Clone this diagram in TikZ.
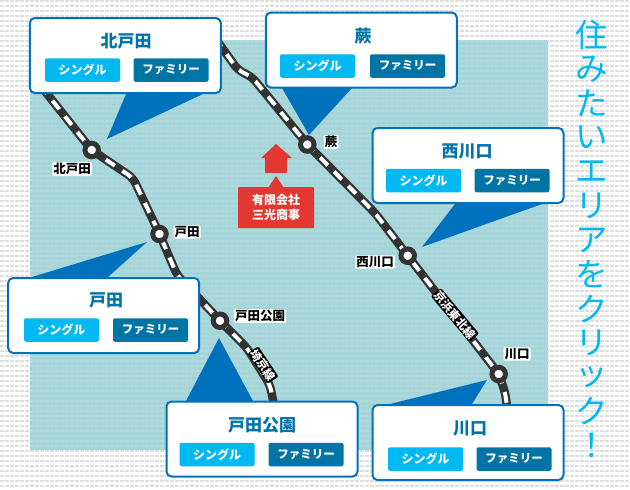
\documentclass[tikz,border=0pt]{standalone}
\usepackage{fontspec}
\setmainfont{Noto Sans CJK JP}
\definecolor{cardblue}{HTML}{0071BC}
\definecolor{singlecol}{HTML}{00B9F2}
\definecolor{familycol}{HTML}{0075A5}
\definecolor{titlecol}{HTML}{0073A8}
\definecolor{watercol}{HTML}{A6D5D9}
\definecolor{waterline}{HTML}{AEDADD}
\definecolor{dotline}{HTML}{DEDEDE}
\definecolor{railcol}{HTML}{333333}
\definecolor{shopred}{HTML}{E23831}
\tikzset{
	bgline/.style={dotline, line width=2pt, dash pattern=on 4pt off 1pt},
	waterrow/.style={waterline, line width=2pt, dash pattern=on 4pt off 1pt},
	rail/.style={railcol, line width=8.5pt, rounded corners=6pt},
	railgap/.style={white, line width=4pt, rounded corners=6pt, dash pattern=on 11pt off 9pt},
	station/.style={circle, draw=railcol, line width=5pt, fill=white, inner sep=0pt, minimum size=13.5pt},
	stationlabel/.style={fill=white, text=black, font=\bfseries\fontsize{12.5}{14}\selectfont, inner sep=1pt, rounded corners=1pt},
	linelabel/.style={fill=black, text=white, font=\bfseries\fontsize{11.5}{12}\selectfont, inner sep=1pt, rounded corners=2pt},
	areacard/.style={rectangle, draw=cardblue, line width=2pt, fill=white, rounded corners=5pt, minimum width=191pt, minimum height=75pt, inner sep=0pt},
	areatitle/.style={text=titlecol, font=\bfseries\fontsize{17}{18}\selectfont, inner sep=0pt},
	singlebtn/.style={fill=singlecol, text=white, rounded corners=2pt, minimum width=75pt, minimum height=23.5pt, inner sep=0pt, font=\bfseries\fontsize{12}{12}\selectfont},
	familybtn/.style={fill=familycol, text=white, rounded corners=2pt, minimum width=75pt, minimum height=23.5pt, inner sep=0pt, font=\bfseries\fontsize{11.5}{12}\selectfont},
	tail/.style={fill=cardblue},
	shop/.style={fill=shopred, text=white, rounded corners=1pt, minimum width=76pt, minimum height=41pt, inner sep=0pt, align=center, font=\bfseries\fontsize{12}{15}\selectfont},
	headline/.style={text=singlecol, inner sep=0pt, font=\fontsize{32.5}{34}\selectfont}
}
\begin{document}
\begin{tikzpicture}[x=1pt,y=-1pt]
	\useasboundingbox (0,0) rectangle (630,490);
	% background
	\foreach \y in {1,6,...,486}
		\draw[bgline] (0,\y) -- (630,\y);
	\fill[watercol] (30,40) rectangle (548,450);
	\foreach \y in {41,46,...,446}
		\draw[waterrow] (30,\y) -- (548,\y);

	% rail lines
	\coordinate (saikyotop) at (40,85);
	\coordinate (saikyoend) at (275,410);
	\coordinate (keihintop) at (215,38);
	\coordinate (keihinend) at (507.5,410);
	\coordinate (kitatodapt) at (91.7,150);
	\coordinate (todapt) at (159.5,234);
	\coordinate (todakoenpt) at (220,320.7);
	\coordinate (warabipt) at (307.3,144.5);
	\coordinate (nishikawaguchipt) at (407.7,255.7);
	\coordinate (kawaguchipt) at (498.7,374);
	\foreach \kind in {rail,railgap} {
		\draw[\kind] (saikyotop) -- (kitatodapt) -- (133,178) -- (todapt) -- (177,275) -- (todakoenpt) -- (247,348) -- (270,385) -- (saikyoend);
		\draw[\kind] (keihintop) -- (238,70) -- (252,77) -- (warabipt) -- (375,213) -- (nishikawaguchipt) -- (kawaguchipt) -- (505,392) -- (keihinend);
	}

	% stations
	\node[station] (kitatoda) at (kitatodapt) {};
	\node[station] (toda) at (todapt) {};
	\node[station] (todakoen) at (todakoenpt) {};
	\node[station] (warabi) at (warabipt) {};
	\node[station] (nishikawaguchi) at (nishikawaguchipt) {};
	\node[station] (kawaguchi) at (kawaguchipt) {};

	% line and station labels
	\node[linelabel, rotate=-56] (saikyolabel) at (263,365) {埼京線};
	\node[linelabel, rotate=-50] (keihinlabel) at (455,315) {京浜東北線};
	\node[stationlabel] (kitatodalabel) at (72,169) {北戸田};
	\node[stationlabel] (todalabel) at (187,232) {戸田};
	\node[stationlabel] (todakoenlabel) at (260,316) {戸田公園};
	\node[stationlabel] (warabilabel) at (331,142) {蕨};
	\node[stationlabel] (nishikawaguchilabel) at (375,262) {西川口};
	\node[stationlabel] (kawaguchilabel) at (517,354) {川口};

	% company
	\fill[shopred] (276,144) -- (292,158) -- (287,158) -- (287,173) -- (265,173) -- (265,158) -- (261,158) -- cycle;
	\fill[shopred] (276,176) -- (284,188) -- (268,188) -- cycle;
	\node[shop] (company) at (276,207.5) {有限会社\\三光商事};

	% tails
	\fill[tail] (126,94) -- (107,139) -- (203,94) -- cycle;
	\fill[tail] (282,88) -- (309,135) -- (352,88) -- cycle;
	\fill[tail] (455,204) -- (422,247) -- (542,204) -- cycle;
	\fill[tail] (32,277) -- (147,242) -- (108,277) -- cycle;
	\fill[tail] (186,401) -- (219,338) -- (253,401) -- cycle;
	\fill[tail] (390,404) -- (487,380) -- (472,404) -- cycle;

	% cards
	\node[areacard] (kitatodacard) at (125.3,55.5) {};
	\node[areatitle] (kitatodatitle) at (126,41.5) {北戸田};
	\node[singlebtn] (kitatodasingle) at (82.5,70) {シングル};
	\node[familybtn] (kitatodafamily) at (171,70) {ファミリー};

	\node[areacard] (warabicard) at (361.3,50) {};
	\node[areatitle] (warabititle) at (363,36.5) {蕨};
	\node[singlebtn] (warabisingle) at (317.5,66) {シングル};
	\node[familybtn] (warabifamily) at (407.5,66) {ファミリー};

	\node[areacard] (nishikawaguchicard) at (468,165.5) {};
	\node[areatitle] (nishikawaguchititle) at (467,151.5) {西川口};
	\node[singlebtn] (nishikawaguchisingle) at (423.5,180.5) {シングル};
	\node[familybtn] (nishikawaguchifamily) at (512,180.5) {ファミリー};

	\node[areacard] (todacard) at (103.7,315.5) {};
	\node[areatitle] (todatitle) at (106,300.5) {戸田};
	\node[singlebtn] (todasingle) at (61.5,330) {シングル};
	\node[familybtn] (todafamily) at (150.5,330) {ファミリー};

	\node[areacard] (todakoencard) at (262,439) {};
	\node[areatitle] (todakoentitle) at (262,425.5) {戸田公園};
	\node[singlebtn] (todakoensingle) at (217,454.5) {シングル};
	\node[familybtn] (todakoenfamily) at (306,454.5) {ファミリー};

	\node[areacard] (kawaguchicard) at (468,442.5) {};
	\node[areatitle] (kawaguchititle) at (470,428.5) {川口};
	\node[singlebtn] (kawaguchisingle) at (425.5,459) {シングル};
	\node[familybtn] (kawaguchifamily) at (514,459) {ファミリー};

	% headline
	\foreach \ch [count=\n from 0] in {住,み,た,い,エ,リ,ア,を,ク,リ,ッ,ク,！}
		\node[headline] (head\n) at (592,35+34.2*\n) {\ch};
\end{tikzpicture}
\end{document}
